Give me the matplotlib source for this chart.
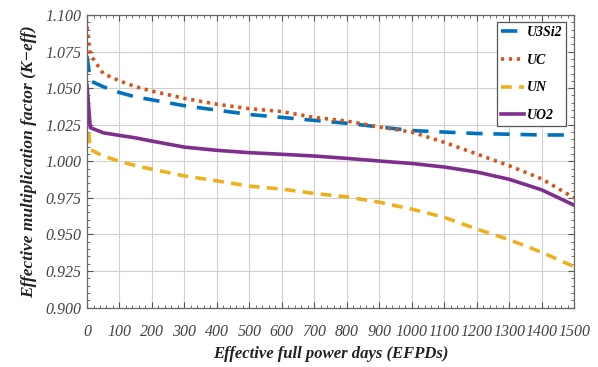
import matplotlib.pyplot as plt
from matplotlib.ticker import MultipleLocator

# Data
days = [0, 10, 50, 100, 150, 200, 300, 400, 500, 600, 700, 800, 900,
        1000, 1100, 1200, 1300, 1400, 1500]
k_u3si2 = [1.072, 1.055, 1.051, 1.047, 1.044, 1.042, 1.038, 1.035, 1.032,
           1.030, 1.028, 1.026, 1.0235, 1.021, 1.020, 1.019, 1.0185,
           1.018, 1.018]
k_uc = [1.092, 1.073, 1.060, 1.055, 1.051, 1.048, 1.043, 1.039, 1.036,
        1.034, 1.030, 1.0275, 1.0235, 1.020, 1.013, 1.005, 0.997,
        0.988, 0.975]
k_un = [1.032, 1.008, 1.0036, 1.000, 0.997, 0.9946, 0.990, 0.9866, 0.983,
        0.981, 0.978, 0.9757, 0.972, 0.9673, 0.9617, 0.9537, 0.9464,
        0.9378, 0.928]
k_uo2 = [1.052, 1.023, 1.0195, 1.0177, 1.016, 1.0138, 1.0097, 1.0075,
         1.0059, 1.0048, 1.0036, 1.002, 1.0002, 0.9985, 0.9961, 0.9927,
         0.9877, 0.9805, 0.970]

series = [
    ('U3Si2', k_u3si2, '#0072BD', (0, (4.5, 3))),
    ('UC', k_uc, '#D95319', (0, (0.9, 1.3))),
    ('UN', k_un, '#EDB120', (0, (3, 2))),
    ('UO2', k_uo2, '#7E2F8E', '-'),
]

fig = plt.figure(figsize=(5.98, 3.67), dpi=100)
ax = fig.add_axes([0.1455, 0.162, 0.8145, 0.797])

for name, vals, color, ls in series:
    ax.plot(days, vals, color=color, linestyle=ls, linewidth=2.6,
            label=name)

ax.set_xlim(0, 1500)
ax.set_ylim(0.9, 1.1)
ax.xaxis.set_major_locator(MultipleLocator(100))
ax.xaxis.set_minor_locator(MultipleLocator(20))
ax.yaxis.set_major_locator(MultipleLocator(0.025))
ax.yaxis.set_minor_locator(MultipleLocator(0.005))
ax.yaxis.set_major_formatter(lambda v, p: f'{v:.3f}')

ax.grid(True, which='major', color='#d0d0d0', linewidth=0.8)
ax.set_axisbelow(True)

ax.tick_params(which='both', direction='in', top=True, right=True,
               colors='#555555', labelcolor='#444444')
ax.tick_params(which='major', length=4, width=0.8)
ax.tick_params(which='minor', length=2, width=0.6)
ax.tick_params(axis='x', pad=12)
ax.tick_params(axis='y', pad=4)
for lab in ax.get_xticklabels() + ax.get_yticklabels():
    lab.set_family('Liberation Serif')
    lab.set_style('italic')
    lab.set_size(11.5)

for sp in ax.spines.values():
    sp.set_color('#666666')
    sp.set_linewidth(0.9)

label_font = dict(family='Liberation Serif', style='italic',
                  weight='bold', size=12, color='#222222')
ax.set_xlabel('Effective full power days (EFPDs)', labelpad=4, **label_font)
ax.set_ylabel('Effective multiplication factor (K\u2212eff)', labelpad=6,
              size=12.5, **{k: v for k, v in label_font.items()
                            if k != 'size'})

leg = ax.legend(loc='upper right', bbox_to_anchor=(0.984, 0.976),
                borderaxespad=0, fancybox=False, edgecolor='#555555',
                framealpha=1, handlelength=1.65, labelspacing=1.05,
                borderpad=0.3, handletextpad=0.2,
                prop=dict(family='Liberation Serif', style='italic',
                          weight='bold', size=10))
leg.get_frame().set_linewidth(0.9)

fig.savefig('out.png', dpi=100)
